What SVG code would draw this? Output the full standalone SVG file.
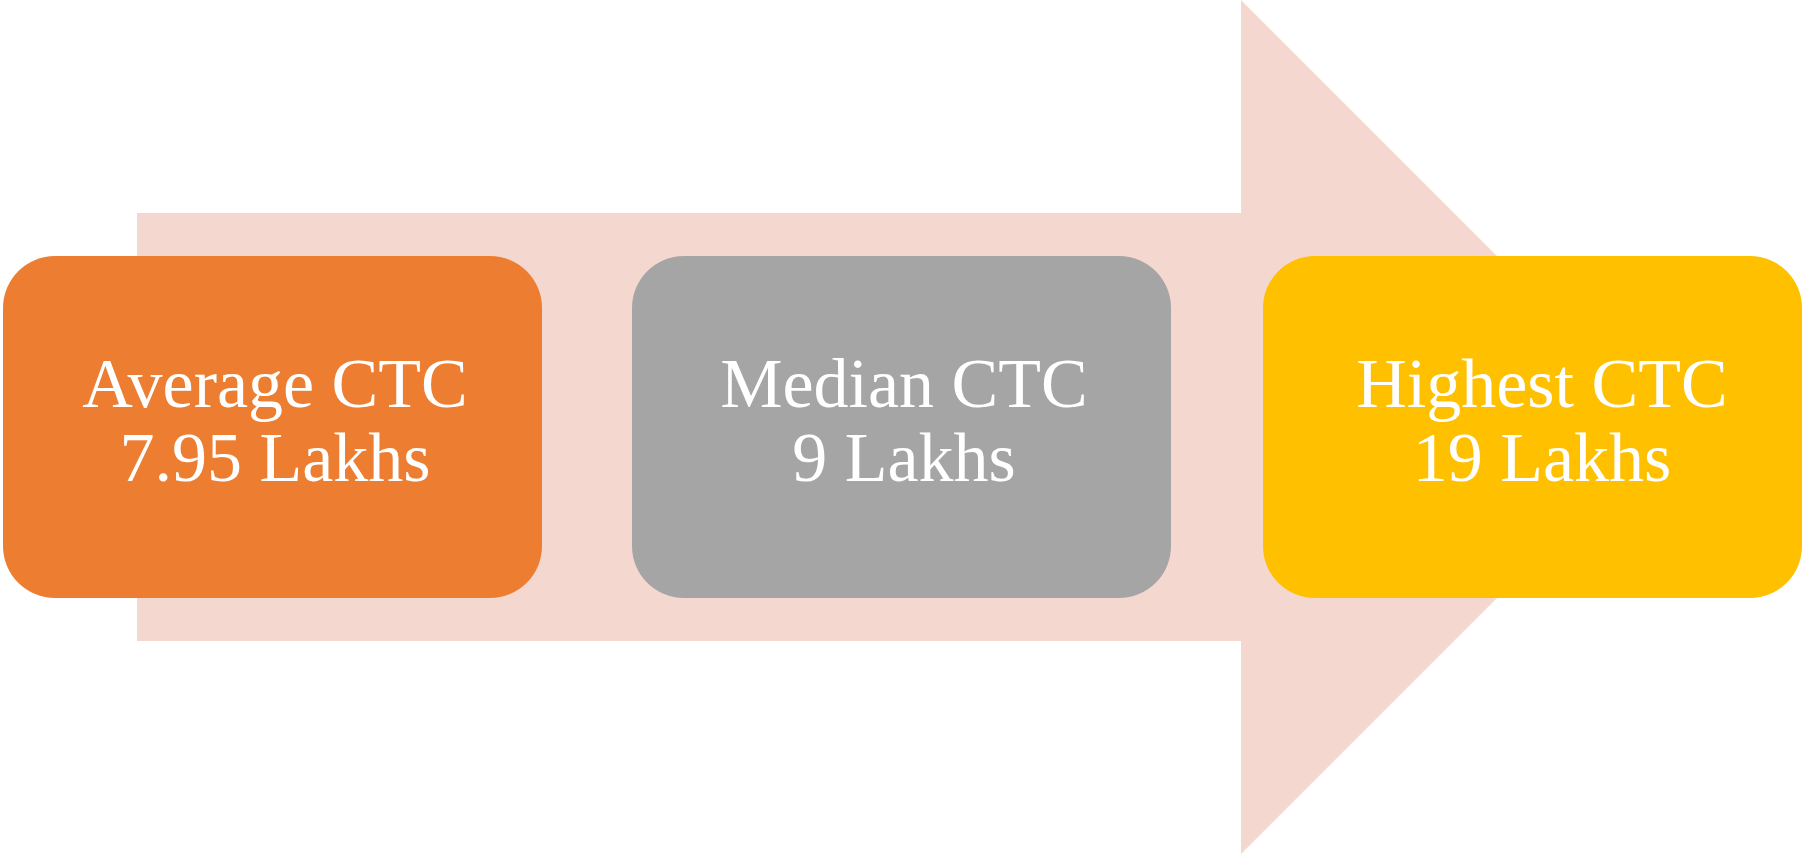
<svg xmlns="http://www.w3.org/2000/svg" width="1806" height="854" viewBox="0 0 1806 854">
<style>
.lbl{font-family:"Liberation Serif","Times New Roman",serif;font-size:70px;fill:#FFFFFF;text-anchor:middle}
</style>
<rect width="1806" height="854" fill="#FFFFFF"/>
<g id="arrow">
<polygon points="137,213 1241,213 1241,0 1668,427 1241,854 1241,641 137,641" fill="#F4D7CE"/>
</g>
<g id="connectors"></g>
<g id="average">
<rect x="3" y="256" width="539" height="342" rx="52" ry="52" fill="#ED7D31"/>
<text class="lbl" x="275" y="407">Average CTC</text>
<text class="lbl" x="275" y="481">7.95 Lakhs</text>
</g>
<g id="median">
<rect x="632" y="256" width="539" height="342" rx="52" ry="52" fill="#A5A5A5"/>
<text class="lbl" x="904" y="407">Median CTC</text>
<text class="lbl" x="904" y="481">9 Lakhs</text>
</g>
<g id="highest">
<rect x="1263" y="256" width="539" height="342" rx="52" ry="52" fill="#FFC000"/>
<text class="lbl" x="1542" y="407">Highest CTC</text>
<text class="lbl" x="1542" y="481">19 Lakhs</text>
</g>
</svg>
